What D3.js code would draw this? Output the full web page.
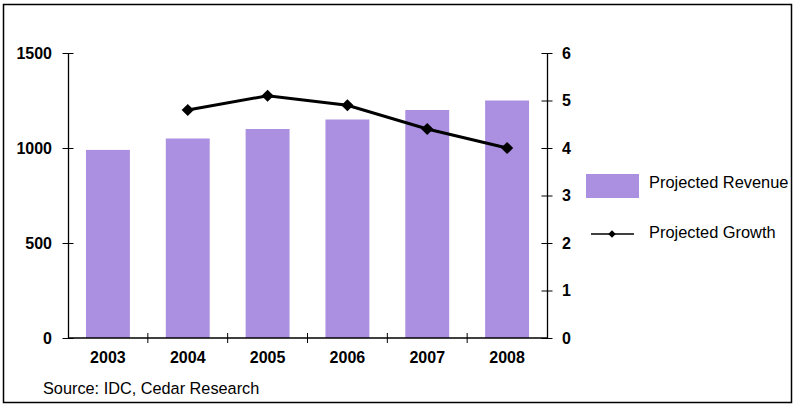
<!DOCTYPE html>
<html>
<head>
<meta charset="utf-8">
<script src="https://cdn.jsdelivr.net/npm/d3@7"></script>
<style>
  body { margin: 0; background: #fff; }
  text { font-family: "Liberation Sans", Arial, sans-serif; }
</style>
</head>
<body>
<svg id="chart" width="795" height="406"></svg>
<script>
const YEARS = ['2003', '2004', '2005', '2006', '2007', '2008']
const REVENUE = [990, 1050, 1100, 1150, 1200, 1250]
const GROWTH_YEARS = ['2004', '2005', '2006', '2007', '2008']
const GROWTH = [4.8, 5.1, 4.9, 4.4, 4.0]
const LEFT_TICKS = [0, 500, 1000, 1500]
const RIGHT_TICKS = [0, 1, 2, 3, 4, 5, 6]

const PURPLE = '#ab8fe0'
const svg = d3.select('#chart')

// cadre
svg.append('rect')
  .attr('x', 3.5).attr('y', 4.5)
  .attr('width', 788).attr('height', 398)
  .attr('fill', 'none').attr('stroke', '#000').attr('stroke-width', 1.5)

const x0 = 68, x1 = 547, yTop = 53, yBot = 338

const x = d3.scaleBand().domain(YEARS).range([x0, x1]).paddingInner(0.45).paddingOuter(0.225)
const xTicks = d3.scaleBand().domain(YEARS).range([x0, x1])
const yL = d3.scaleLinear().domain([0, 1500]).range([yBot, yTop])
const yR = d3.scaleLinear().domain([0, 6]).range([yBot, yTop])

// barres
svg.selectAll('rect.bar')
  .data(REVENUE)
  .enter()
  .append('rect')
  .attr('class', 'bar')
  .attr('x', (d, i) => x(YEARS[i]))
  .attr('width', x.bandwidth())
  .attr('y', d => yL(d))
  .attr('height', d => yBot - yL(d))
  .attr('fill', PURPLE)

// axes
const leftAxis = svg.append('g')
  .attr('transform', `translate(${x0},0)`)
  .call(d3.axisLeft(yL).tickValues(LEFT_TICKS).tickFormat(d3.format('d'))
    .tickSize(11).tickSizeOuter(0).tickPadding(5))
const rightAxis = svg.append('g')
  .attr('transform', `translate(${x1},0)`)
  .call(d3.axisRight(yR).tickValues(RIGHT_TICKS).tickFormat(d3.format('d'))
    .tickSize(11).tickSizeOuter(0).tickPadding(4))
svg.append('g')
  .attr('transform', `translate(0,${yBot})`)
  .call(d3.axisBottom(xTicks).tickSize(0).tickPadding(14).tickSizeOuter(0))
  .call(g => g.select('.domain').attr('d', `M${x0},0H${x1}`))

// petites graduations entre catégories
svg.append('g').selectAll('line')
  .data(YEARS.slice(1))
  .enter()
  .append('line')
  .attr('x1', d => xTicks(d)).attr('x2', d => xTicks(d))
  .attr('y1', yBot - 5).attr('y2', yBot + 5)
  .attr('stroke', '#000')

leftAxis.selectAll('line').attr('transform', 'translate(5.5,0)')
rightAxis.selectAll('line').attr('transform', 'translate(-5.5,0)')
svg.selectAll('.domain').attr('stroke', '#000').attr('stroke-width', 1.3)
svg.selectAll('.tick line').attr('stroke', '#000')
svg.selectAll('.tick text')
  .attr('font-size', 16).attr('font-weight', 'bold').attr('fill', '#000')
  .attr('font-family', '"Liberation Sans", Arial, sans-serif')

// ligne de croissance
const cx = d => x(d) + x.bandwidth() / 2
const line = d3.line().x((d, i) => cx(GROWTH_YEARS[i])).y(d => yR(d))
svg.append('path')
  .datum(GROWTH)
  .attr('d', line)
  .attr('fill', 'none').attr('stroke', '#000').attr('stroke-width', 3)

const diamond = d3.symbol().type(d3.symbolDiamond2).size(95)
svg.selectAll('path.pt')
  .data(GROWTH)
  .enter()
  .append('path')
  .attr('class', 'pt')
  .attr('d', diamond)
  .attr('transform', (d, i) => `translate(${cx(GROWTH_YEARS[i])},${yR(d)})`)
  .attr('fill', '#000')

// légende
svg.append('rect')
  .attr('x', 586).attr('y', 174).attr('width', 53).attr('height', 24)
  .attr('fill', PURPLE)
svg.append('text')
  .attr('x', 649).attr('y', 188)
  .attr('font-size', 16.4).text('Projected Revenue')
svg.append('line')
  .attr('x1', 591).attr('x2', 634).attr('y1', 234).attr('y2', 234)
  .attr('stroke', '#000').attr('stroke-width', 1.3)
svg.append('path')
  .attr('d', d3.symbol().type(d3.symbolDiamond2).size(36))
  .attr('transform', 'translate(612,234)')
svg.append('text')
  .attr('x', 649).attr('y', 238)
  .attr('font-size', 16.4).text('Projected Growth')

// source
svg.append('text')
  .attr('x', 43).attr('y', 394)
  .attr('font-size', 16.3).text('Source: IDC, Cedar Research')
</script>
</body>
</html>
